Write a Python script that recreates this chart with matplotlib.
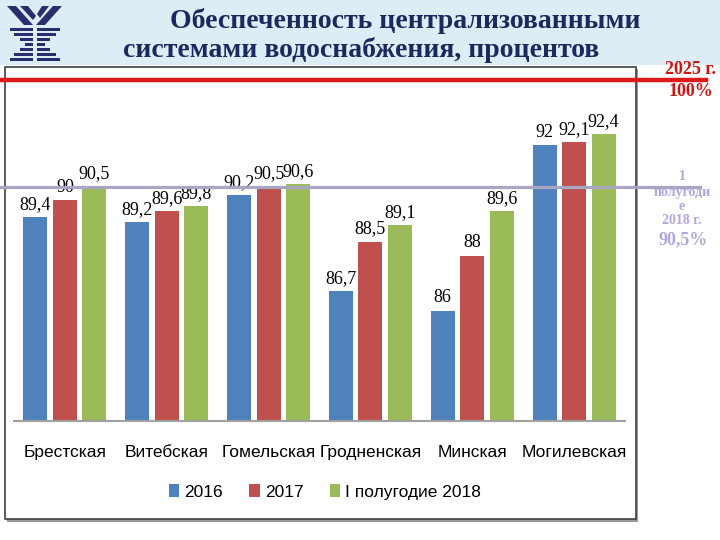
import matplotlib
matplotlib.use("Agg")
import matplotlib.pyplot as plt
import matplotlib.transforms as mtransforms
from matplotlib.patches import Rectangle, Polygon, Patch
from matplotlib.lines import Line2D
import numpy as np

# data
regions = ["Брестская", "Витебская", "Гомельская", "Гродненская", "Минская", "Могилевская"]
series_names = ["2016", "2017", "I полугодие 2018"]
v2016 = [89.4, 89.2, 90.2, 86.7, 86.0, 92.0]
v2017 = [90.0, 89.6, 90.5, 88.5, 88.0, 92.1]
v2018 = [90.5, 89.8, 90.6, 89.1, 89.6, 92.4]
level_2018 = 90.5
colors = ["#4f81bd", "#c0504d", "#9bbb59"]

W, H = 720, 540
fig = plt.figure(figsize=(7.2, 5.4), dpi=100)
fig.patch.set_facecolor("white")


def fx(px):
    return px / W


def fy(py):
    return 1 - py / H


# header band
fig.add_artist(Rectangle((0, fy(65)), 1, 65 / H, transform=fig.transFigure,
                         facecolor="#dcedf5", edgecolor="none", zorder=0))

# logo
navy = "#2b2d6e"
logo = [
    [(7, 6), (16, 6), (33, 25), (24, 25)],
    [(20, 6), (28, 6), (36, 16), (33, 20)],
    [(62, 6), (53, 6), (36, 25), (45, 25)],
    [(49, 6), (42, 6), (37, 14), (40, 18)],
]
for poly in logo:
    fig.add_artist(Polygon([(fx(a), fy(b)) for a, b in poly], closed=True,
                           transform=fig.transFigure, facecolor=navy, edgecolor="none"))
stripes = [(28, 10, 60), (33, 14, 56), (38, 20, 50), (43, 25, 45),
           (48, 20, 50), (53, 14, 56), (58, 10, 60)]
for yy, x0, x1 in stripes:
    fig.add_artist(Rectangle((fx(x0), fy(yy + 3)), (x1 - x0) / W, 3 / H,
                             transform=fig.transFigure, facecolor=navy, edgecolor="none"))
    fig.add_artist(Rectangle((fx(33), fy(yy + 3)), 4 / W, 3 / H,
                             transform=fig.transFigure, facecolor="#dcedf5", edgecolor="none"))

# title
title_kw = dict(family=["Liberation Serif", "DejaVu Serif"], weight="bold",
                color="#1b2a5e", fontsize=20, ha="center", va="center")
fig.text(fx(405), fy(21), "Обеспеченность централизованными", **title_kw)
fig.text(fx(361), fy(50), "системами водоснабжения, процентов", **title_kw)

# chart box with shadow
fig.add_artist(Rectangle((fx(7), fy(522)), 631 / W, 453 / H, transform=fig.transFigure,
                         facecolor="#9a9a9a", edgecolor="none", zorder=1))
fig.add_artist(Rectangle((fx(5), fy(519)), 631 / W, 452 / H, transform=fig.transFigure,
                         facecolor="white", edgecolor="#404040", lw=1.2, zorder=1))

# bars
ax = fig.add_axes([fx(14), fy(421), (625 - 14) / W, (421 - 90) / H], zorder=2)
ax.patch.set_alpha(0)
x = np.arange(len(regions))
step = 0.29
width = 0.235
sans = ["Liberation Sans Narrow", "Liberation Sans", "DejaVu Sans"]
for i, (vals, c) in enumerate(zip([v2016, v2017, v2018], colors)):
    bars = ax.bar(x + (i - 1) * step, vals, width, color=c, zorder=2)
    ax.bar_label(bars, labels=[f"{v:g}".replace(".", ",") for v in vals], padding=3,
                 fontfamily=["Liberation Serif", "DejaVu Serif"], fontsize=13)
ax.set_xlim(-0.5, len(regions) - 0.5)
ax.set_ylim(82, 94)
ax.set_xticks(x)
ax.set_xticklabels(regions, family=sans, fontsize=12.5)
ax.tick_params(axis="x", length=0, pad=17)
ax.get_yaxis().set_visible(False)
for s in ["top", "right", "left"]:
    ax.spines[s].set_visible(False)
ax.spines["bottom"].set_color("#a0a0a0")
ax.spines["bottom"].set_linewidth(1.5)

# legend
handles = [Patch(facecolor=c, edgecolor="none") for c in colors]
fig.legend(handles, series_names, loc="center", bbox_to_anchor=(fx(325), fy(492)),
           ncol=3, frameon=False, handlelength=0.6, handleheight=0.7, handletextpad=0.3,
           columnspacing=1.5, prop={"family": sans, "size": 12.5})

# reference lines
blend = mtransforms.blended_transform_factory(fig.transFigure, ax.transData)
fig.add_artist(Line2D([0, fx(700)], [level_2018, level_2018], transform=blend,
                      color="#a9a6c4", lw=2.3, zorder=5))
fig.add_artist(Line2D([0, fx(706)], [fy(80), fy(80)], transform=fig.transFigure,
                      color="#dd1a1a", lw=3.2, zorder=5))

# right annotations
red_kw = dict(family=["Liberation Serif", "DejaVu Serif"], weight="bold", color="#cc1515",
              fontsize=13, ha="center", va="center")
fig.text(fx(690), fy(69), "2025 г.", **red_kw)
fig.text(fx(691), fy(91), "100%", **red_kw)
lav_kw = dict(family=["Liberation Serif", "DejaVu Serif"], weight="bold", color="#b3a6e0",
              ha="center", va="center")
fig.text(fx(682), fy(177), "1", fontsize=10, **lav_kw)
fig.text(fx(682), fy(192), "полугоди", fontsize=10, **lav_kw)
fig.text(fx(682), fy(206), "е", fontsize=10, **lav_kw)
fig.text(fx(682), fy(221), "2018 г.", fontsize=10, **lav_kw)
fig.text(fx(683), fy(240), f"{level_2018:g}%".replace(".", ","), fontsize=13, **lav_kw)

fig.savefig("out.png", dpi=100)
